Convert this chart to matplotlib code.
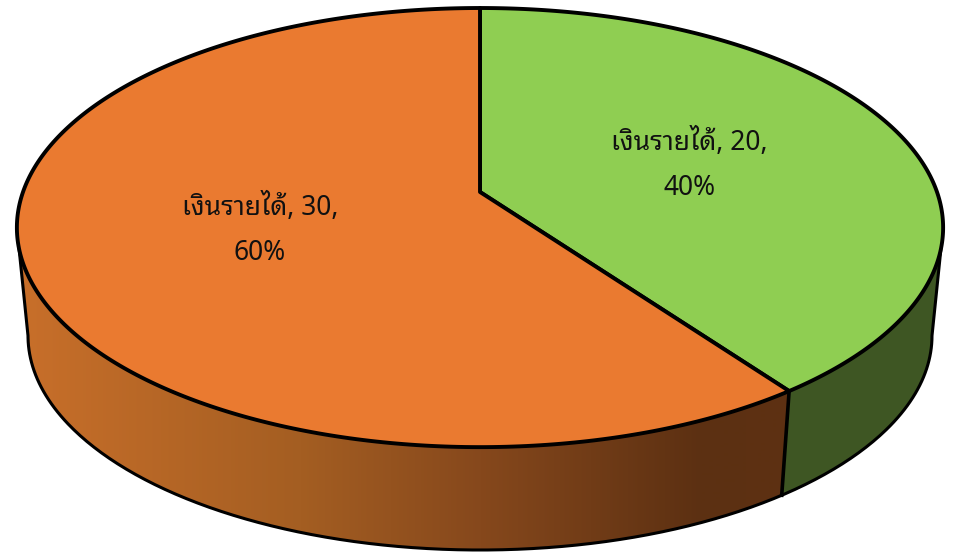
import numpy as np
import matplotlib
matplotlib.use('Agg')
import matplotlib.pyplot as plt
from matplotlib.colors import to_rgb
from matplotlib.patches import Polygon

# pie data
labels = ['เงินรายได้', 'เงินรายได้']
values = [20, 30]
top_colors = ['#8FCE52', '#EA7A30']

# gradient stops of the side wall (x position in pixels, colour)
side_x = [20, 300, 480, 700, 790]
side_orange = ['#C86F2A', '#A45E22', '#86481C', '#5C3012', '#5E3112']
side_green = '#3E5623'

# disc shape, pixel space of the picture
cx, cy = 480, 192
a, b, k = 457, 213.8, 0.162
drop, shrink = 109, 0.976


def project(theta, lower=False):
    # theta runs clockwise from 12 o'clock, far side of the disc is smaller
    w = 1 + k * np.cos(theta)
    x = a * np.sin(theta) / w
    y = -b * np.cos(theta) / w
    if lower:
        return cx + shrink * x, cy + drop + shrink * y
    return cx + x, cy + y


def wall(t):
    # polygon between the top rim and the lower rim
    xs, ys = project(t)
    xl, yl = project(t, True)
    return np.r_[np.c_[xs, ys], np.c_[xl, yl][::-1]]


plt.rcParams['font.family'] = ['Noto Sans Thai Looped', 'Open Sans', 'DejaVu Sans']

fig = plt.figure(figsize=(9.55, 5.54), dpi=100)
ax = fig.add_axes([0, 0, 1, 1])

fractions = np.array(values) / sum(values)
edges = np.concatenate([[0], np.cumsum(fractions)]) * 2 * np.pi

# side wall runs between the two silhouette points of the disc
t_right = np.arccos(-k)
t_left = 2 * np.pi - t_right
t_split = edges[1]

# orange wall is a horizontal gradient clipped to the wall shape
px = np.arange(955)
stops = np.array([to_rgb(c) for c in side_orange])
gradient = np.stack([np.interp(px, side_x, stops[:, i]) for i in range(3)], axis=-1)[None, :, :]
clip = Polygon(wall(np.linspace(t_split, t_left, 300)), closed=True, transform=ax.transData)
im = ax.imshow(gradient, extent=(0, 955, 554, 0), aspect='auto', zorder=1)
im.set_clip_path(clip)

ax.add_patch(Polygon(wall(np.linspace(t_right, t_split, 80)), closed=True, fc=side_green, ec='none', zorder=1))

# outline of the side wall
t = np.linspace(t_right, t_left, 300)
xl, yl = project(t, True)
xr, yr = project(t_right)
xe, ye = project(t_left)
ax.plot(np.r_[xr, xl, xe], np.r_[yr, yl, ye], color='black', lw=2.2, zorder=2, solid_joinstyle='round')
x0, y0 = project(t_split)
x1, y1 = project(t_split, True)
ax.plot([x0, x1], [y0, y1], color='black', lw=2.6, zorder=2)

# top of the disc
for i, color in enumerate(top_colors):
    t = np.linspace(edges[i], edges[i + 1], 300)
    xs, ys = project(t)
    ax.add_patch(Polygon(np.r_[[[cx, cy]], np.c_[xs, ys]], closed=True, fc=color, ec='black', lw=2.8,
                         joinstyle='round', zorder=3))

label_pos = [(689, 165), (260, 230)]
for name, value, frac, (lx, ly) in zip(labels, values, fractions, label_pos):
    ax.text(lx, ly, f'{name}, {value},\n{frac * 100:.0f}%', ha='center', va='center',
            fontsize=19, color='#111111', linespacing=1.8, zorder=4)

ax.set_xlim(0, 955)
ax.set_ylim(554, 0)
ax.axis('off')
fig.savefig('out.png', dpi=100)
